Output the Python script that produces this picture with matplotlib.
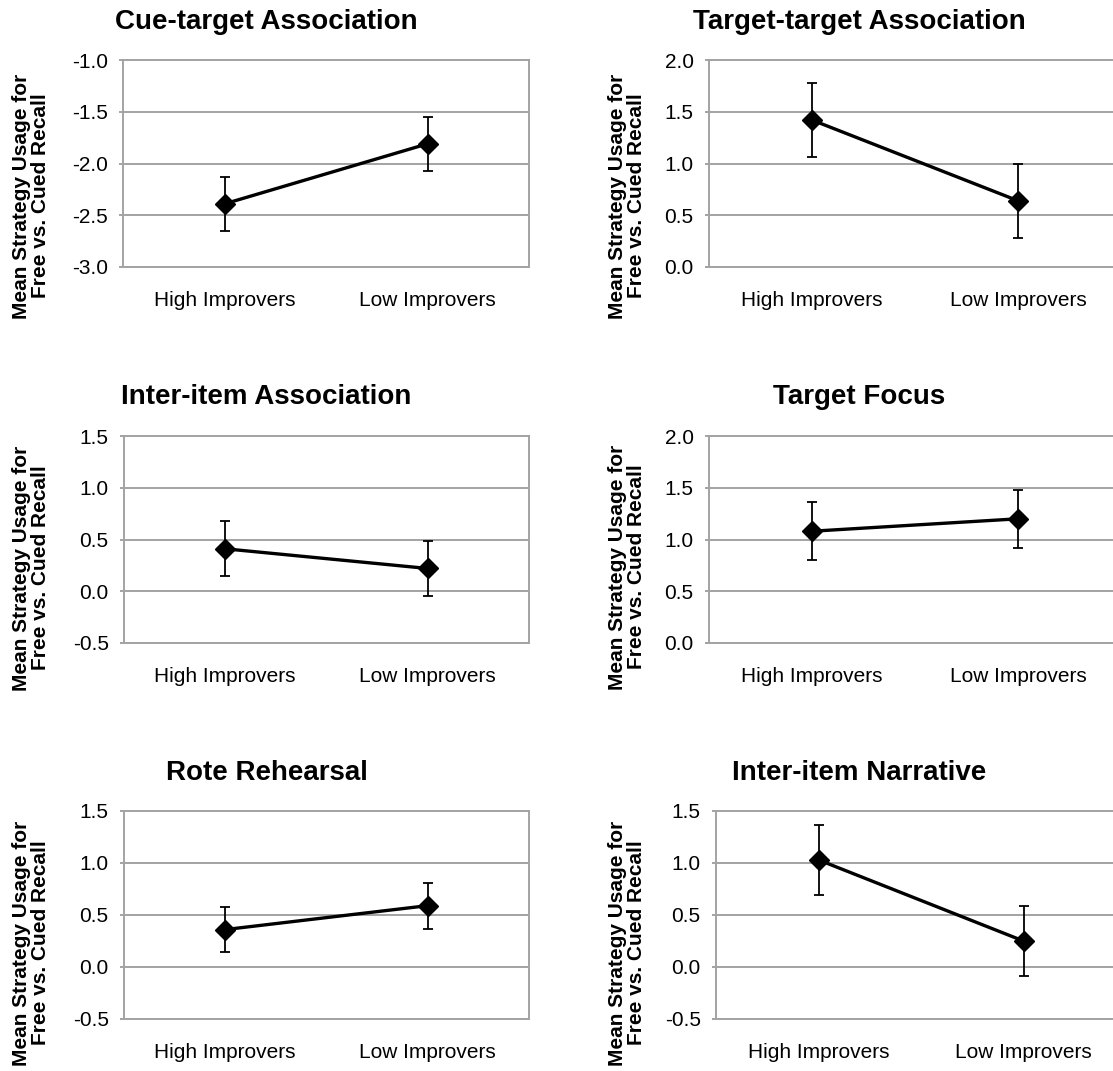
import matplotlib
matplotlib.use("Agg")
import matplotlib.pyplot as plt
import numpy as np

plt.rcParams['font.family'] = ['Liberation Sans', 'DejaVu Sans']

# strategy scores per group: mean and error bar half-length
titles = ["Cue-target Association", "Target-target Association",
          "Inter-item Association", "Target Focus",
          "Rote Rehearsal", "Inter-item Narrative"]
groups = ["High Improvers", "Low Improvers"]
high_mean = [-2.39, 1.42, 0.41, 1.08, 0.36, 1.03]
low_mean = [-1.81, 0.64, 0.22, 1.20, 0.59, 0.25]
high_err = [0.26, 0.355, 0.267, 0.28, 0.22, 0.335]
low_err = [0.26, 0.355, 0.267, 0.28, 0.22, 0.335]
y_ranges = [(-3.0, -1.0), (0.0, 2.0), (-0.5, 1.5),
            (0.0, 2.0), (-0.5, 1.5), (-0.5, 1.5)]
ylabel = "Mean Strategy Usage for\nFree vs. Cued Recall"

W, H = 1113, 1071
fig = plt.figure(figsize=(W / 100, H / 100), dpi=100)

# axes boxes in pixels: left, top, right, bottom
boxes = [(123, 60, 529, 267), (709, 60, 1121, 267),
         (124, 436, 529, 643), (709, 436, 1121, 643),
         (124, 811, 529, 1019), (716, 811, 1126, 1019)]
title_pos = [(266, 22), (859, 22), (266, 397), (859, 397), (267, 773), (859, 773)]
ylab_pos = [(31, 196), (627, 196), (31, 568), (627, 567), (31, 943), (627, 943)]

grid_col = "#a3a3a3"

for i in range(6):
    l, t, r, b = boxes[i]
    ax = fig.add_axes([l / W, 1 - b / H, (r - l) / W, (b - t) / H])
    x = np.arange(len(groups))
    ax.errorbar(x, [high_mean[i], low_mean[i]], yerr=[high_err[i], low_err[i]],
                color="black", lw=2.4, marker="D", markersize=10,
                ecolor="black", elinewidth=1.3, capsize=3.5, capthick=1.3, zorder=3)
    ax.set_xlim(-0.5, 1.5)
    lo, hi = y_ranges[i]
    ax.set_ylim(lo, hi)
    ticks = np.arange(lo, hi + 0.01, 0.5)
    ax.set_yticks(ticks)
    ax.set_yticklabels([f"{v:.1f}" for v in ticks])
    ax.set_xticks(x)
    ax.set_xticklabels(groups)
    ax.grid(axis="y", color=grid_col, lw=1.4)
    ax.set_axisbelow(True)
    for s in ax.spines.values():
        s.set_color(grid_col)
        s.set_linewidth(1.4)
    ax.tick_params(axis="y", length=3, width=1.4, color=grid_col, labelsize=15, pad=8)
    ax.tick_params(axis="x", length=0, labelsize=15, pad=17)

    tx, ty = title_pos[i]
    fig.text(tx / W, 1 - ty / H, titles[i], ha="center", va="center",
             fontsize=20, fontweight="bold")
    lx, ly = ylab_pos[i]
    fig.text(lx / W, 1 - ly / H, ylabel, ha="center", va="center", rotation=90,
             multialignment="center", fontsize=15, fontweight="bold", linespacing=1.0)

fig.savefig("out.png", dpi=100)
